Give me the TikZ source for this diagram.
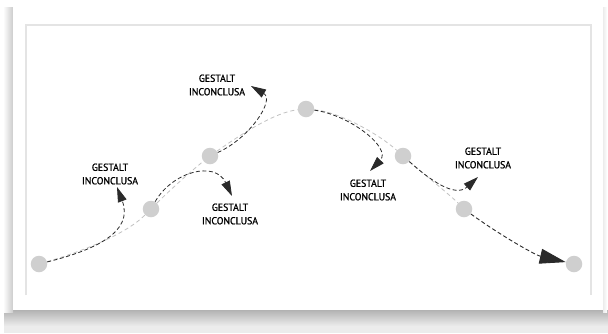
\documentclass[tikz,border=0pt]{standalone}
\usepackage{fontspec}
\setmainfont{PT Sans}
\newfontfamily\lblfont[FakeBold=1.2,FakeStretch=0.96]{PT Sans}
\usetikzlibrary{arrows.meta}
\definecolor{dotgray}{HTML}{CFCFCF}
\definecolor{pathgray}{HTML}{C2C2C2}
\definecolor{darkpath}{HTML}{2A2A2A}
\definecolor{framegray}{HTML}{E4E4E4}
\begin{document}
\begin{tikzpicture}[x=1pt,y=-1pt,
  dot/.style={circle,fill=dotgray,minimum size=16.5pt,inner sep=0pt},
  lbl/.style={align=center,font=\lblfont\fontsize{10.2}{13.5}\selectfont,inner sep=0pt,text=black},
  mainline/.style={pathgray,line width=0.8pt,dash pattern=on 4pt off 3pt},
  gestalt/.style={darkpath,line width=0.8pt,dash pattern=on 4pt off 2.5pt,-{Triangle[length=15pt,width=9pt]}},
  finalarrow/.style={darkpath,line width=0.9pt,dash pattern=on 4pt off 2.5pt,-{Triangle[length=26pt,width=15pt]}}]
% page and card
\useasboundingbox (0,0) rectangle (608,333);
\fill[white] (0,0) rectangle (608,333);
\shade[top color=gray!60,bottom color=gray!15] (4,310) rectangle (608,326);
\fill[gray!15] (4,326) rectangle (608,333);
\shade[left color=white,right color=gray!40] (3,7) rectangle (13,312);
\shade[left color=gray!15,right color=white] (603,7) rectangle (607,312);
\fill[white] (13,7) rectangle (603,310);
\draw[framegray,line width=1.4pt] (26,295) -- (26,25) -- (591,25) -- (591,295);
% dots
\node[dot] (A) at (39,264) {};
\node[dot] (B) at (151,209) {};
\node[dot] (C) at (210,156) {};
\node[dot] (D) at (306,109) {};
\node[dot] (E) at (403,156) {};
\node[dot] (F) at (464,209) {};
\node[dot] (G) at (574,264) {};
% labels
\node[lbl] (L1) at (110,174) {GESTALT\\INCONCLUSA};
\node[lbl] (L2) at (230,214) {GESTALT\\INCONCLUSA};
\node[lbl] (L3) at (217,85) {GESTALT\\INCONCLUSA};
\node[lbl] (L4) at (368,190) {GESTALT\\INCONCLUSA};
\node[lbl] (L5) at (483,158) {GESTALT\\INCONCLUSA};
% arrow tip coordinates
\coordinate (t1) at (117,187);
\coordinate (t2) at (232,196);
\coordinate (t3) at (251,86);
\coordinate (t4) at (370,171);
\coordinate (t5) at (478,177);
% main light path
\draw[mainline] (A) .. controls (80,252) and (125,235) .. (B);
\draw[mainline] (B) .. controls (170,190) and (190,172) .. (C);
\draw[mainline] (C) .. controls (240,135) and (275,112) .. (D);
\draw[mainline] (D) .. controls (340,112) and (380,135) .. (E);
\draw[mainline] (E) .. controls (425,175) and (450,195) .. (F);
% unfinished gestalts
\draw[gestalt] (A) .. controls (95,250) and (134,232) .. (t1);
\draw[gestalt] (B) .. controls (172,172) and (215,160) .. (t2);
\draw[gestalt] (C) .. controls (250,138) and (275,100) .. (t3);
\draw[gestalt] (D) .. controls (350,115) and (392,148) .. (t4);
\draw[gestalt] (E) .. controls (430,180) and (455,198) .. (t5);
\draw[finalarrow] (F) .. controls (500,235) and (535,255) .. (G);
\end{tikzpicture}
\end{document}
